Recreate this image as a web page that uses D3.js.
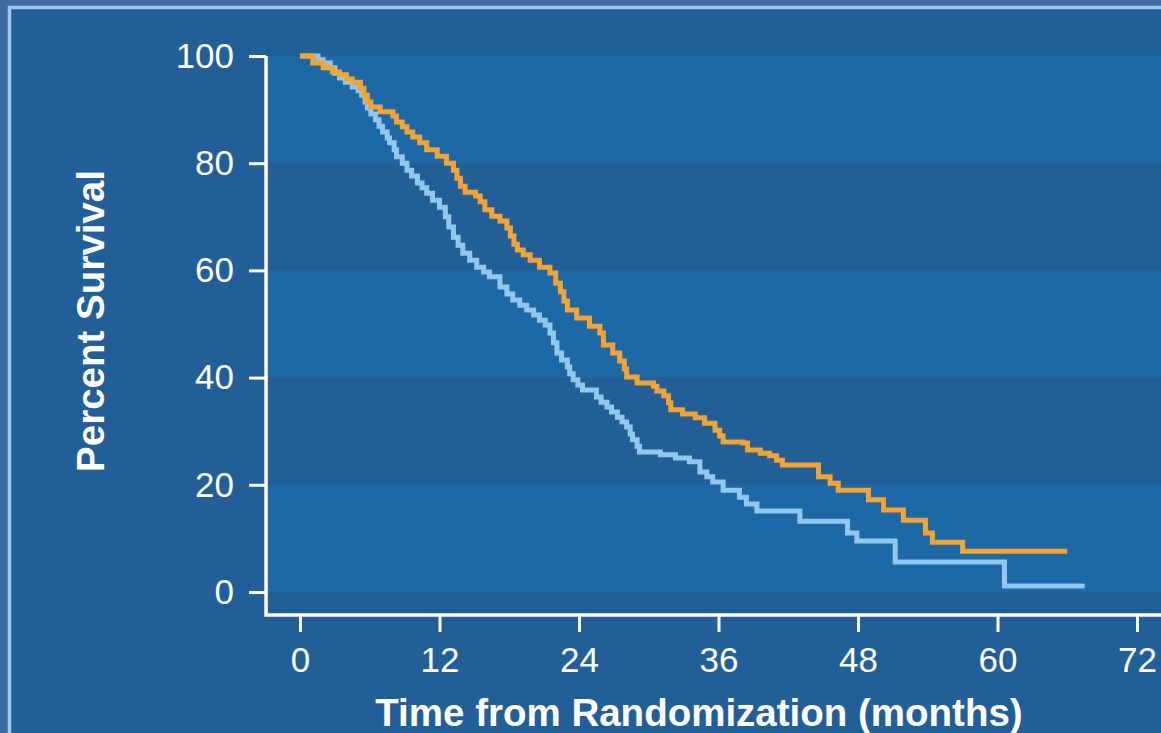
<!DOCTYPE html>
<html>
<head>
<meta charset="utf-8">
<script src="https://cdn.jsdelivr.net/npm/d3@7"></script>
<style>
  body { margin: 0; background: #3f6da3; }
  svg { display: block; font-family: "Liberation Sans", Arial, sans-serif; }
</style>
</head>
<body>
<script>
// tick values
const xTicks = [0, 12, 24, 36, 48, 60, 72];
const yTicks = [0, 20, 40, 60, 80, 100];

// control arm (light blue): month of each drop, survival after it
const ctrlMonths = [0, 1.55, 2.0, 2.6, 3.0, 3.4, 3.9, 4.5, 5.0, 5.3, 5.6, 5.8, 6.1, 6.5, 6.8, 7.1, 7.5, 7.7, 8.1, 8.3, 8.8,
  9.2, 9.6, 10.1, 10.5, 10.9, 11.4, 12.0, 12.5, 12.8, 13.2, 13.6, 14.0, 14.6, 15.2, 15.8, 16.3, 17.2, 17.8, 18.3, 18.9,
  19.5, 20.1, 20.6, 21.1, 21.5, 21.8, 22.1, 22.5, 23.0, 23.2, 23.5, 23.9, 24.3, 25.5, 25.9, 26.4, 26.8, 27.3, 27.7,
  28.1, 28.4, 28.6, 29.0, 29.2, 31.0, 32.3, 33.5, 34.4, 35.0, 35.5, 36.4, 37.8, 38.4, 39.3, 43.0, 47.1, 47.9, 51.2,
  60.6, 67.5];
const ctrlSurv = [100, 99.3, 98.7, 97.8, 96.8, 95.9, 95.1, 94.2, 93.5, 92.7, 91.4, 90.3, 89.2, 88.1, 86.9, 85.8, 84.7,
  83.8, 82.5, 81.2, 80.0, 78.7, 77.6, 76.3, 75.4, 74.4, 73.1, 71.8, 70.0, 68.1, 66.2, 64.7, 63.2, 61.9, 60.6, 59.7,
  58.8, 56.9, 55.6, 54.5, 53.5, 52.6, 51.7, 50.7, 49.8, 48.3, 46.5, 44.6, 43.3, 42.0, 40.7, 39.6, 38.6, 37.7, 36.4,
  35.4, 34.5, 33.6, 32.6, 31.7, 30.8, 29.5, 28.4, 27.2, 26.1, 25.6, 25.0, 24.3, 22.4, 21.5, 20.5, 19.0, 17.7, 16.4,
  15.1, 13.2, 11.0, 9.5, 5.6, 1.1, 1.1];

// treatment arm (orange)
const trtMonths = [0, 1.1, 2.0, 2.8, 3.4, 4.0, 4.5, 5.2, 5.5, 5.8, 6.1, 6.9, 8.0, 8.3, 8.8, 9.2, 9.7, 10.3, 10.9, 11.8,
  12.6, 13.2, 13.5, 13.8, 14.2, 15.1, 15.5, 15.9, 16.5, 17.2, 17.8, 18.1, 18.4, 18.7, 19.2, 19.8, 20.6, 21.5, 22.0,
  22.4, 22.7, 23.0, 23.8, 24.9, 25.8, 26.1, 26.9, 27.5, 27.9, 28.1, 29.0, 30.4, 30.7, 31.3, 31.7, 31.9, 32.9, 34.0,
  34.8, 35.7, 36.1, 36.4, 38.1, 38.5, 39.6, 40.4, 41.0, 41.5, 44.6, 45.6, 46.3, 48.9, 50.2, 51.9, 53.8, 54.4, 57.0,
  66.0];
const trtSurv = [100, 98.7, 97.8, 97.0, 96.5, 95.7, 95.1, 94.0, 92.7, 91.4, 90.5, 89.6, 88.8, 87.7, 86.8, 85.8, 84.9,
  83.8, 82.5, 81.3, 80.0, 78.7, 77.2, 75.7, 74.6, 73.9, 72.8, 71.3, 70.1, 69.2, 67.9, 66.4, 64.9, 63.8, 62.9, 61.9,
  60.6, 59.5, 57.6, 56.0, 54.3, 52.6, 51.1, 49.6, 48.3, 46.1, 44.6, 43.1, 41.6, 40.1, 39.0, 38.4, 37.5, 36.6, 35.3,
  34.0, 33.2, 32.5, 31.5, 30.2, 29.1, 28.0, 27.8, 26.5, 25.9, 25.4, 24.6, 23.7, 21.5, 20.3, 19.0, 17.2, 15.3, 13.4,
  11.0, 9.3, 7.6, 7.6];

const w = 1161;
const h = 733;

const svg = d3.select("body")
  .append("svg")
  .attr("width", w)
  .attr("height", h);

// outer frame
svg.append("rect")
  .attr("x", 9.5).attr("y", 7.5)
  .attr("width", w + 20).attr("height", h + 20)
  .attr("fill", "#225f98")
  .attr("stroke", "#9ccaee")
  .attr("stroke-width", 3.5);

const xScale = d3.scaleLinear().domain([0, 72]).range([300, 1137]);
const yScale = d3.scaleLinear().domain([0, 100]).range([592, 56]);

const axisLeftX = xScale(-2.92);
const axisBottomY = yScale(-4.3);

// alternating horizontal bands
const bands = d3.range(0, yTicks.length - 1).filter(i => i % 2 === 0);
svg.selectAll("rect.band")
  .data(bands)
  .enter()
  .append("rect")
  .attr("class", "band")
  .attr("x", axisLeftX)
  .attr("width", w - axisLeftX)
  .attr("y", i => yScale(yTicks[i + 1]))
  .attr("height", i => yScale(yTicks[i]) - yScale(yTicks[i + 1]))
  .attr("fill", "#1d69a6");

// curves
const line = d3.line()
  .x(d => xScale(d[0]))
  .y(d => yScale(d[1]))
  .curve(d3.curveStepAfter);

const ctrl = ctrlMonths.map((m, i) => [m, ctrlSurv[i]]);
const trt = trtMonths.map((m, i) => [m, trtSurv[i]]);

svg.append("path")
  .attr("d", line(ctrl))
  .attr("fill", "none")
  .attr("stroke", "#92c8ee")
  .attr("stroke-width", 5);

svg.append("path")
  .attr("d", line(trt))
  .attr("fill", "none")
  .attr("stroke", "#f4a434")
  .attr("stroke-width", 5);

// axes
const yAxis = d3.axisLeft(yScale)
  .tickValues(yTicks)
  .tickSize(17)
  .tickSizeOuter(0)
  .tickPadding(15);

const xAxis = d3.axisBottom(xScale)
  .tickValues(xTicks)
  .tickSize(17)
  .tickSizeOuter(0)
  .tickPadding(15);

const gy = svg.append("g")
  .attr("transform", "translate(" + axisLeftX + ",0)")
  .call(yAxis);

const gx = svg.append("g")
  .attr("transform", "translate(0," + axisBottomY + ")")
  .call(xAxis);

gy.select(".domain").remove();
gx.select(".domain").remove();

svg.selectAll(".tick line")
  .attr("stroke", "white")
  .attr("stroke-width", 3);
svg.selectAll(".tick text")
  .attr("fill", "white")
  .style("font-size", "35px")
  .style("font-family", "'Liberation Sans', Arial, sans-serif");

svg.append("path")
  .attr("d", "M" + axisLeftX + "," + yScale(100) + "V" + axisBottomY + "H" + w)
  .attr("fill", "none")
  .attr("stroke", "white")
  .attr("stroke-width", 3.5);

// axis titles
svg.append("text")
  .attr("transform", "translate(104," + 321 + ") rotate(-90)")
  .attr("text-anchor", "middle")
  .attr("fill", "white")
  .style("font-size", "38.5px")
  .style("font-weight", "bold")
  .text("Percent Survival");

svg.append("text")
  .attr("x", 699)
  .attr("y", 726)
  .attr("text-anchor", "middle")
  .attr("fill", "white")
  .style("font-size", "38.5px")
  .style("font-weight", "bold")
  .text("Time from Randomization (months)");
</script>
</body>
</html>
